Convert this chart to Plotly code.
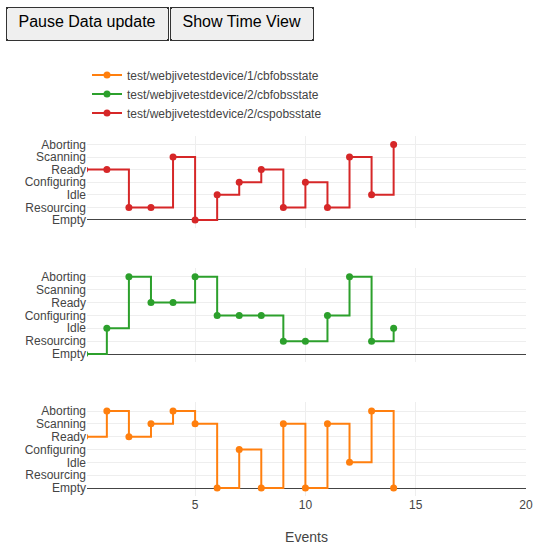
import plotly.graph_objects as go

states = ["Empty", "Resourcing", "Idle", "Configuring", "Ready", "Scanning", "Aborting"]
events = list(range(15))

names = [
    "test/webjivetestdevice/1/cbfobsstate",
    "test/webjivetestdevice/2/cbfobsstate",
    "test/webjivetestdevice/2/cspobsstate",
]
colors = ["#ff7f0e", "#2ca02c", "#d62728"]

cbf1 = ["Ready", "Aborting", "Ready", "Scanning", "Aborting", "Scanning", "Empty",
        "Configuring", "Empty", "Scanning", "Empty", "Scanning", "Idle", "Aborting", "Empty"]
cbf2 = ["Empty", "Idle", "Aborting", "Ready", "Ready", "Aborting", "Configuring",
        "Configuring", "Configuring", "Resourcing", "Resourcing", "Configuring",
        "Aborting", "Resourcing", "Idle"]
csp2 = ["Ready", "Ready", "Resourcing", "Resourcing", "Scanning", "Empty", "Idle",
        "Configuring", "Ready", "Resourcing", "Configuring", "Resourcing", "Scanning",
        "Idle", "Aborting"]

series = [cbf1, cbf2, csp2]
yaxes = ["y", "y2", "y3"]

fig = go.Figure()
for name, col, vals, ya in zip(names, colors, series, yaxes):
    fig.add_trace(go.Scatter(
        x=events, y=[states.index(v) for v in vals], name=name,
        mode="lines+markers", line=dict(shape="hv", color=col, width=2),
        marker=dict(size=7, color=col), xaxis="x", yaxis=ya,
    ))

FONT = "Liberation Sans, Arial, sans-serif"
yax = dict(tickmode="array", tickvals=list(range(len(states))), ticktext=states,
           range=[-0.62, 6.67], gridcolor="#eee", zeroline=True, zerolinecolor="#444",
           zerolinewidth=1, showline=False, ticks="", fixedrange=True, automargin=False)

fig.update_layout(
    template="none",
    width=536, height=554,
    margin=dict(l=87, r=10, t=136, b=58, autoexpand=False),
    font=dict(family=FONT, size=12, color="#444"),
    paper_bgcolor="white", plot_bgcolor="white",
    showlegend=True,
    legend=dict(x=0, y=1.2097, xanchor="left", yanchor="top", bgcolor="rgba(0,0,0,0)",
                font=dict(family=FONT, size=12, color="#444")),
    xaxis=dict(range=[0.1, 20], tick0=0, dtick=5, gridcolor="#eee", zeroline=False,
               showline=False, ticks="", title=dict(text="Events", standoff=21),
               anchor="y", automargin=False),
    yaxis=dict(domain=[0, 0.26], anchor="x", **yax),
    yaxis2=dict(domain=[0.3722, 0.633], anchor="x", **yax),
    yaxis3=dict(domain=[0.745, 1.0], anchor="x", **yax),
    updatemenus=[dict(
        type="buttons", direction="right", active=-1, showactive=False,
        x=-0.1867, y=1.3608, xanchor="left", yanchor="top", pad=dict(l=0, r=0, t=0, b=0),
        bgcolor="#efefef", bordercolor="#333", borderwidth=1.5,
        font=dict(family=FONT, size=16, color="#000"),
        buttons=[
            dict(label="Pause Data update", method="skip", args=[None]),
            dict(label="Show Time View", method="skip", args=[None]),
        ],
    )],
)

fig.write_html("out.html")
